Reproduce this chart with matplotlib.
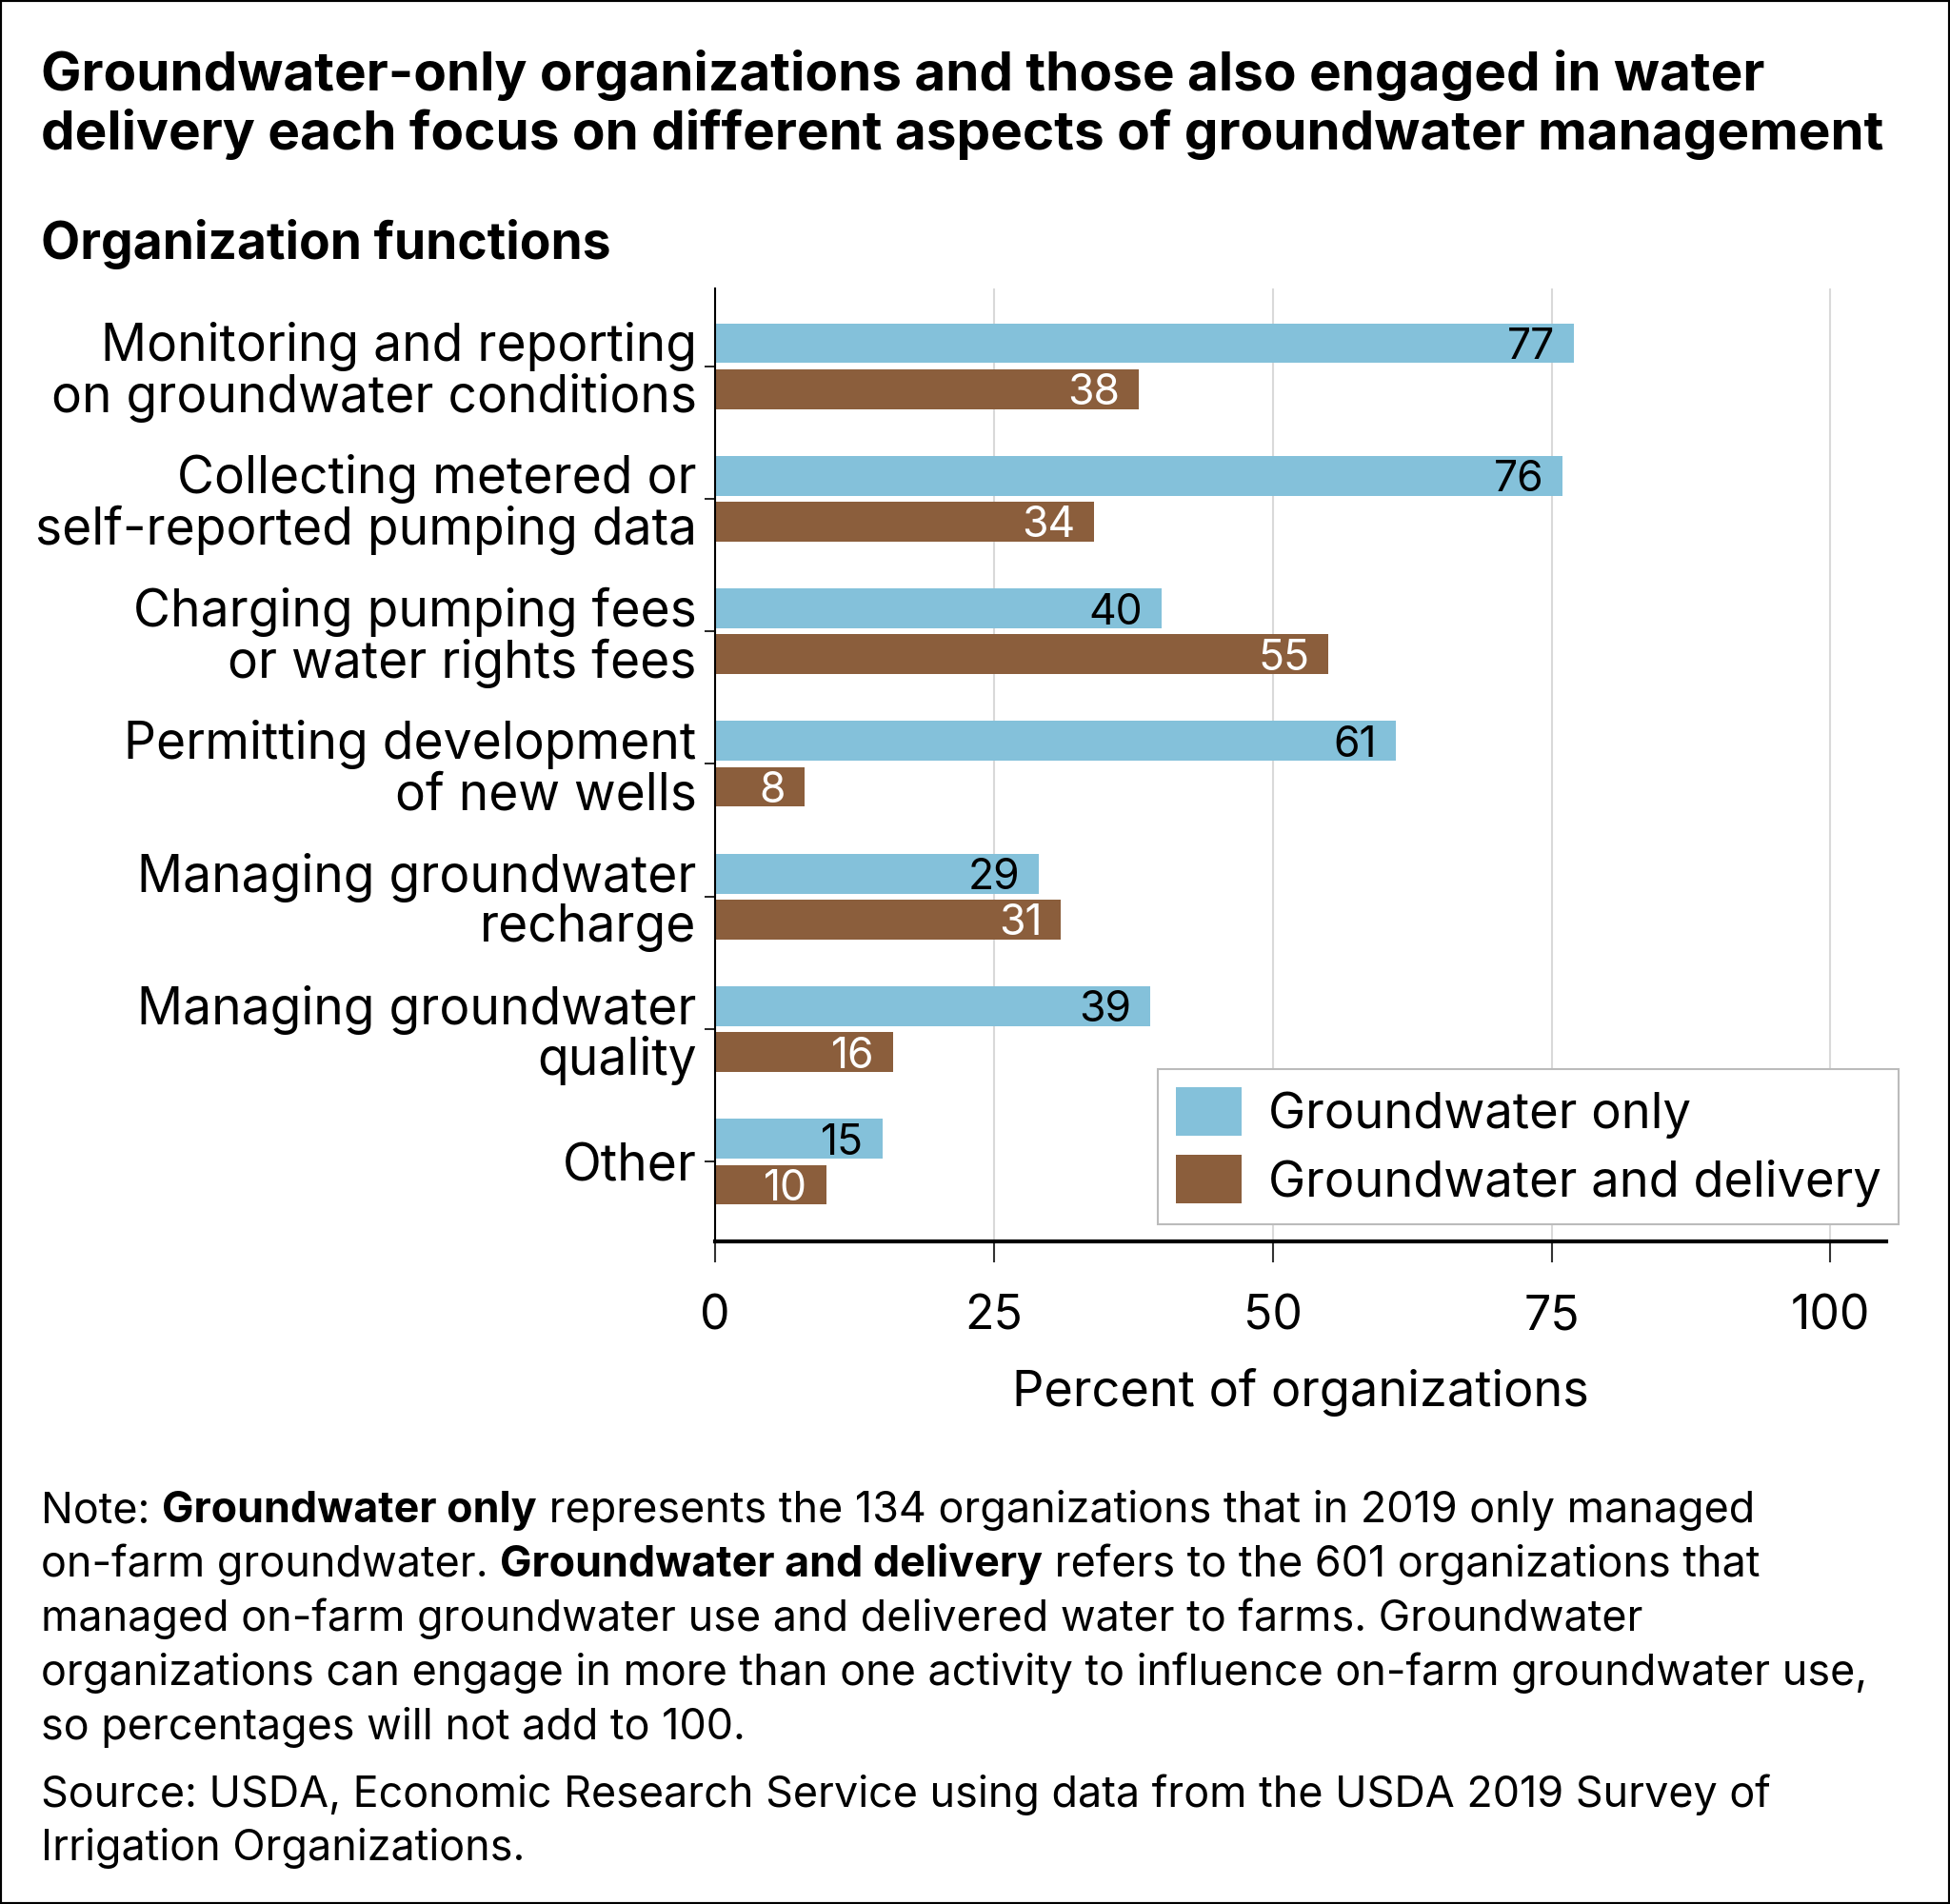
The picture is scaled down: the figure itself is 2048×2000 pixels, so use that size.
import numpy as np
import matplotlib.pyplot as plt
import matplotlib.transforms as mtransforms
from matplotlib.patches import Rectangle

plt.rcParams['font.family'] = ['Inter', 'DejaVu Sans']

categories = [
    "Monitoring and reporting\non groundwater conditions",
    "Collecting metered or\nself-reported pumping data",
    "Charging pumping fees\nor water rights fees",
    "Permitting development\nof new wells",
    "Managing groundwater\nrecharge",
    "Managing groundwater\nquality",
    "Other",
]
gw_only = [77, 76, 40, 61, 29, 39, 15]
gw_delivery = [38, 34, 55, 8, 31, 16, 10]
series_names = ["Groundwater only", "Groundwater and delivery"]
x_ticks = [0, 25, 50, 75, 100]

blue = '#84c1da'
brown = '#8b5e3c'

fig = plt.figure(figsize=(20.48, 20), dpi=100)
W, H = 2048, 2000

# outer frame
fig.patches.append(Rectangle((0, 0), 1, 1, transform=fig.transFigure,
                             fill=False, edgecolor='black', linewidth=3))

ax = fig.add_axes([751 / W, 1 - 1304 / H, (1981 - 751) / W, (1304 - 303) / H])

y = np.arange(len(categories))
h = 0.30
off = 0.173
ax.barh(y - off, gw_only, height=h, color=blue, label=series_names[0], zorder=2)
ax.barh(y + off, gw_delivery, height=h, color=brown, label=series_names[1], zorder=2)

for i in range(len(categories)):
    ax.text(gw_only[i] - 1.7, y[i] - off, str(gw_only[i]), ha='right', va='center_baseline',
            fontsize=32, color='black', zorder=3)
    ax.text(gw_delivery[i] - 1.7, y[i] + off, str(gw_delivery[i]), ha='right', va='center_baseline',
            fontsize=32, color='white', zorder=3)

ax.set_xlim(0, 105)
ax.set_ylim(len(categories) - 0.4, -0.585)
ax.set_yticks(y)
ax.set_yticklabels(categories, fontsize=38.4, linespacing=1.04)
# nudge y labels up a little
shift = mtransforms.ScaledTranslation(0, 4.5 / 72, fig.dpi_scale_trans)
for lab in ax.get_yticklabels():
    lab.set_transform(lab.get_transform() + shift)
ax.set_xticks(x_ticks)
ax.set_xticklabels([str(t) for t in x_ticks], fontsize=36)
ax.tick_params(axis='x', length=16, width=1.5, pad=24, color='#333333')
ax.tick_params(axis='y', length=8, width=1.2, pad=6)
ax.grid(axis='x', color='#d9d9d9', linewidth=1.5, zorder=0)
ax.set_axisbelow(True)
for s in ['top', 'right']:
    ax.spines[s].set_visible(False)
ax.spines['left'].set_linewidth(1.5)
ax.spines['bottom'].set_linewidth(3)
ax.set_xlabel("Percent of organizations", fontsize=37.7, labelpad=22)

leg = ax.legend(loc='lower right', bbox_to_anchor=(1.0106, 0.018), borderaxespad=0,
                fontsize=37.8, frameon=True, fancybox=False, edgecolor='#bbbbbb',
                framealpha=1, handlelength=1.33, handleheight=1.12, borderpad=0.35,
                labelspacing=0.33, handletextpad=0.52)
leg.get_frame().set_linewidth(1.5)

# title and subtitle
fig.text(43 / W, 1 - 95 / H, "Groundwater-only organizations and those also engaged in water",
         fontsize=40.8, fontweight='bold', va='baseline')
fig.text(43 / W, 1 - 157 / H, "delivery each focus on different aspects of groundwater management",
         fontsize=40.8, fontweight='bold', va='baseline')
fig.text(43 / W, 1 - 272 / H, "Organization functions", fontsize=38.4, fontweight='bold', va='baseline')

# note with bold segments
note_lines = [
    [("Note: ", 'normal'), ("Groundwater only", 'bold'),
     (" represents the 134 organizations that in 2019 only managed", 'normal')],
    [("on-farm groundwater. ", 'normal'), ("Groundwater and delivery", 'bold'),
     (" refers to the 601 organizations that", 'normal')],
    [("managed on-farm groundwater use and delivered water to farms. Groundwater", 'normal')],
    [("organizations can engage in more than one activity to influence on-farm groundwater use,", 'normal')],
    [("so percentages will not add to 100.", 'normal')],
    [("Source: USDA, Economic Research Service using data from the USDA 2019 Survey of", 'normal')],
    [("Irrigation Organizations.", 'normal')],
]
baselines = [1599, 1656, 1713, 1770, 1827, 1898, 1954]

fig.canvas.draw()
renderer = fig.canvas.get_renderer()
for segs, b in zip(note_lines, baselines):
    x = 43
    for txt, wt in segs:
        t = fig.text(x / W, 1 - b / H, txt, fontsize=32.3, fontweight=wt, va='baseline')
        bb = t.get_window_extent(renderer)
        x += bb.width

fig.savefig('out.png', dpi=100)
